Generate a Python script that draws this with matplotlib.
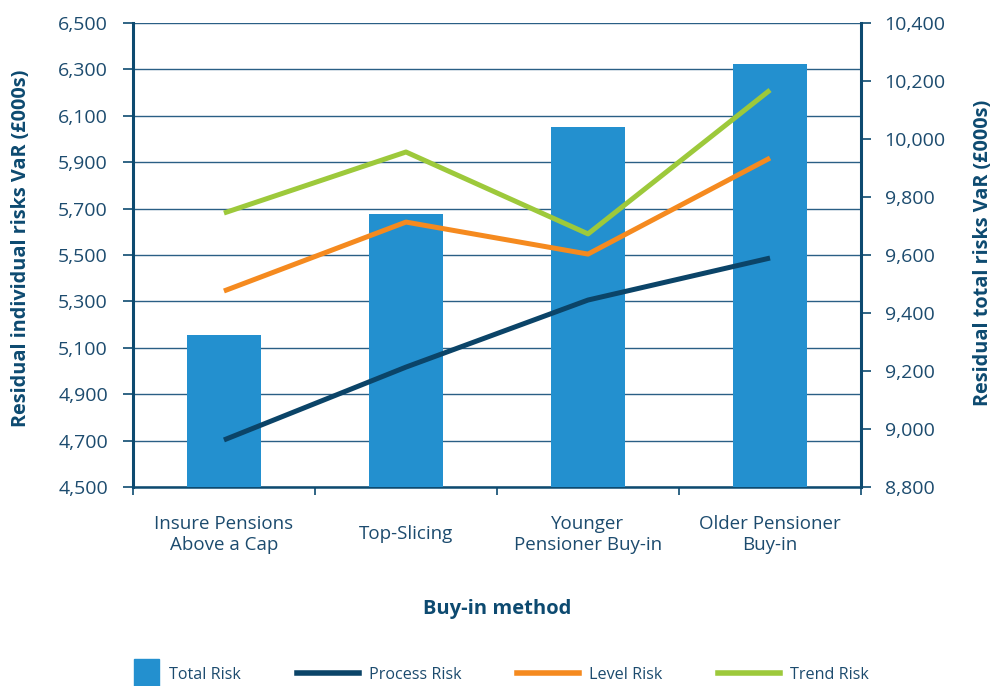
import matplotlib
matplotlib.use('Agg')
import matplotlib.pyplot as plt
from matplotlib.patches import Rectangle
from matplotlib.lines import Line2D
from matplotlib.legend_handler import HandlerPatch

plt.rcParams['font.family'] = ['Open Sans', 'DejaVu Sans']

# Data
methods = ['Insure Pensions\nAbove a Cap', 'Top-Slicing',
           'Younger\nPensioner Buy-in', 'Older Pensioner\nBuy-in']
total_risk = [9323, 9740, 10040, 10260]      # right axis
process_risk = [4703, 5017, 5306, 5487]      # left axis
level_risk = [5345, 5642, 5504, 5918]
trend_risk = [5681, 5944, 5591, 6211]

left_ticks = list(range(4500, 6501, 200))
right_ticks = list(range(8800, 10401, 200))

dark = '#0d4a70'
txt = '#1c4b6e'
c_bar = '#2390cf'
c_proc = '#0b4468'
c_level = '#f58a1f'
c_trend = '#9dc93b'

fig = plt.figure(figsize=(9.92, 6.86), dpi=100)
ax = fig.add_axes([0.134, 0.290, 0.734, 0.6765])
ax2 = ax.twinx()
ax3 = ax.twinx()

x = list(range(len(methods)))

# grid on left axis (bottom layer)
ax.set_ylim(4500, 6500)
ax.set_yticks(left_ticks)
ax.set_yticklabels(['{:,}'.format(t) for t in left_ticks])
ax.grid(axis='y', color='#2a5f85', linewidth=1.0)
ax.set_axisbelow(True)

# bars on right axis
ax2.bar(x, total_risk, width=0.41, color=c_bar, zorder=2)
ax2.set_ylim(8800, 10400)
ax2.set_yticks(right_ticks)
ax2.set_yticklabels(['{:,}'.format(t) for t in right_ticks])

# lines on left scale, top layer
ax3.plot(x, process_risk, color=c_proc, lw=3.6, solid_capstyle='butt')
ax3.plot(x, level_risk, color=c_level, lw=3.6, solid_capstyle='butt')
ax3.plot(x, trend_risk, color=c_trend, lw=3.6, solid_capstyle='butt')
ax3.set_ylim(4500, 6500)
ax3.axis('off')

for a in (ax, ax2, ax3):
    a.set_xlim(-0.5, 3.5)

for a in (ax, ax2):
    a.spines['top'].set_visible(False)
ax2.spines['left'].set_visible(False)
ax2.spines['bottom'].set_visible(False)
ax.spines['right'].set_visible(False)
ax.spines['left'].set_color(dark)
ax.spines['left'].set_linewidth(2.2)
ax.spines['bottom'].set_color(dark)
ax.spines['bottom'].set_linewidth(1.8)
ax2.spines['right'].set_color(dark)
ax2.spines['right'].set_linewidth(2.2)

ax.tick_params(axis='y', direction='out', length=7, width=1.2, color=dark,
               labelsize=14, labelcolor=txt, pad=11)
ax2.tick_params(axis='y', direction='out', length=7, width=1.2, color=dark,
                labelsize=14, labelcolor=txt, pad=10)

ax.set_xticks(x)
ax.set_xticklabels(methods)
ax.set_xticks([-0.5, 0.5, 1.5, 2.5, 3.5], minor=True)
ax.tick_params(axis='x', which='major', length=0, labelsize=13.5,
               labelcolor=txt, pad=34)
ax.tick_params(axis='x', which='minor', length=6, width=1.2, color=dark)
for lab in ax.get_xticklabels():
    lab.set_va('center')
ax2.tick_params(axis='x', which='both', length=0, labelbottom=False)

fig.text(0.501, 0.112, 'Buy-in method', ha='center', va='center',
         fontsize=14.5, fontweight='bold', color=dark)
fig.text(0.021, 0.638, 'Residual individual risks VaR (£000s)', rotation=90,
         ha='center', va='center', fontsize=14.3, fontweight='bold', color=dark)
fig.text(0.991, 0.631, 'Residual total risks VaR (£000s)', rotation=90,
         ha='center', va='center', fontsize=14.3, fontweight='bold', color=dark)


def small_box(legend, orig_handle, xdescent, ydescent, width, height, fontsize):
    w = 18
    return Rectangle((width - w - xdescent, -ydescent - 6), w, height + 12)


handles = [Rectangle((0, 0), 1, 1, color=c_bar),
           Line2D([], [], color=c_proc, lw=4),
           Line2D([], [], color=c_level, lw=4),
           Line2D([], [], color=c_trend, lw=4)]
labels = ['Total Risk', 'Process Risk', 'Level Risk', 'Trend Risk']
leg = fig.legend(handles, labels, loc='center', bbox_to_anchor=(0.487, 0.016),
                 ncol=4, frameon=False, fontsize=11.6, handlelength=3.85,
                 handletextpad=0.62, columnspacing=3.45,
                 handler_map={Rectangle: HandlerPatch(patch_func=small_box)})
for t in leg.get_texts():
    t.set_color(txt)

fig.savefig('out.png', dpi=100)
